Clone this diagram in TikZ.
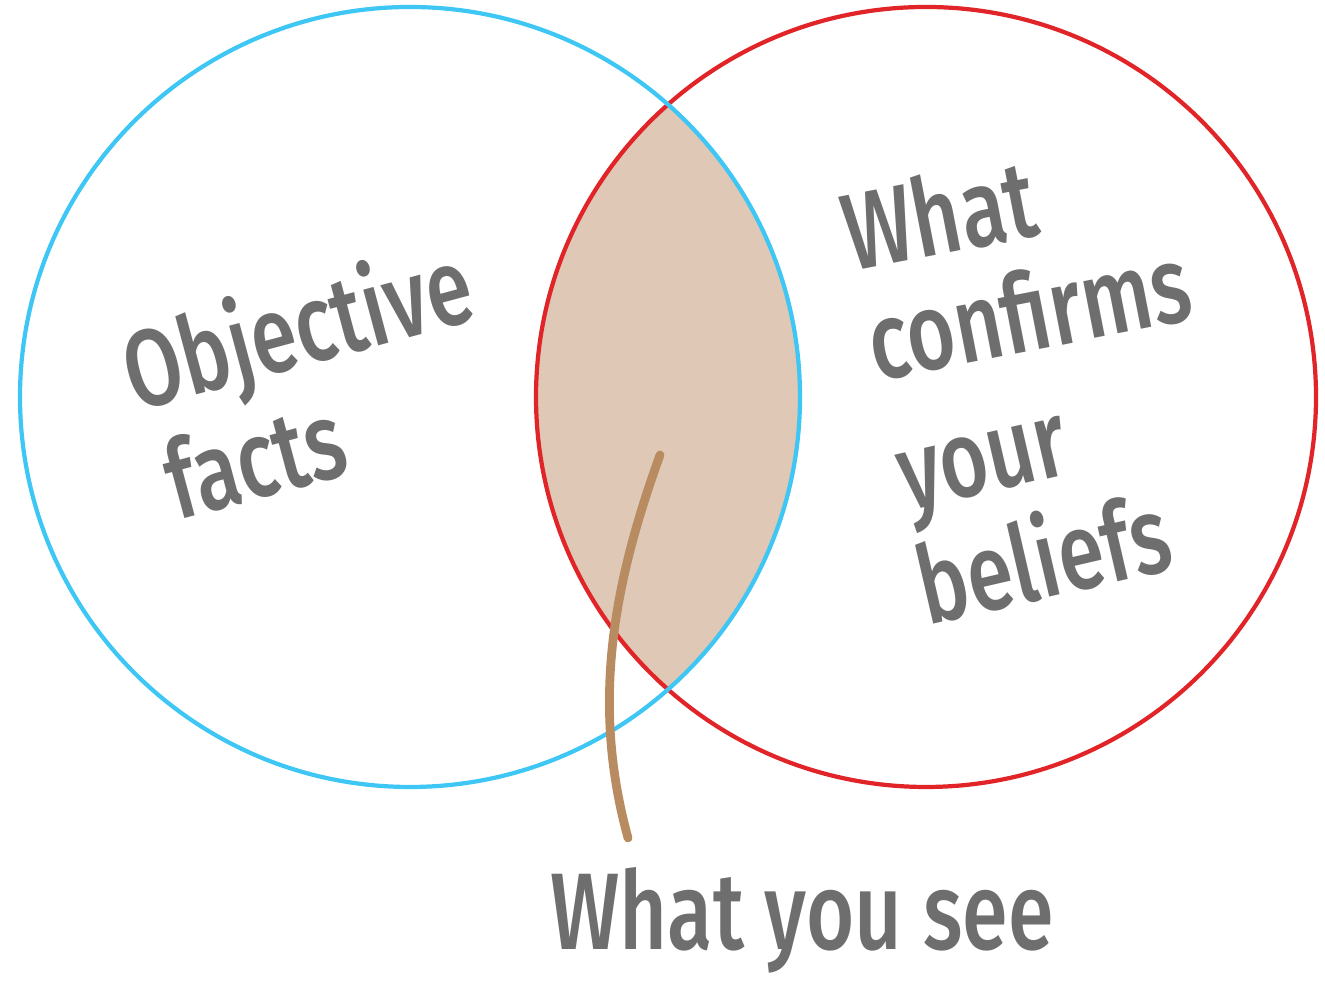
\documentclass[tikz,border=0pt]{standalone}
\usepackage{fontspec}
\setmainfont{Fira Sans}[UprightFont=* Medium]
\definecolor{factblue}{HTML}{3EC6F4}
\definecolor{beliefred}{HTML}{E02427}
\definecolor{seefill}{HTML}{DFC8B5}
\definecolor{seeline}{HTML}{B88C60}
\definecolor{inkgray}{HTML}{6E6E6E}
\begin{document}
\begin{tikzpicture}[
    hand/.style={text=inkgray, font=\fontsize{31}{36}\selectfont, anchor=base, inner sep=0pt},
    ring/.style={line width=1.2pt}]
    \useasboundingbox (0,0) rectangle (13.25,9.97);
    \coordinate (facts) at (4.10,6.00);
    \coordinate (beliefs) at (9.26,6.00);
    % overlap of the two sets
    \begin{scope}
      \clip (facts) circle (3.90);
      \fill[seefill] (beliefs) circle (3.90);
    \end{scope}
    \draw[ring, beliefred] (beliefs) circle (3.90);
    \draw[ring, factblue] (facts) circle (3.90);
    % labels
    \node[hand, rotate=15, xscale=0.76] (objective) at (3.07,6.32) {Objective};
    \node[hand, rotate=15, xscale=0.76] (factsword) at (2.65,5.00) {facts};
    \node[hand, rotate=11, xscale=0.76] (what) at (9.47,7.44) {What};
    \node[hand, rotate=11, xscale=0.76] (confirms) at (10.36,6.47) {confirms};
    \node[hand, rotate=13, xscale=0.76] (your) at (9.90,5.05) {your};
    \node[hand, rotate=13, xscale=0.76] (beliefword) at (10.52,4.00) {beliefs};
    \node[hand, xscale=0.76] (see) at (8.02,0.47) {What you see};
    % pointer
    \coordinate (tip) at (6.60,5.42);
    \coordinate (foot) at (6.28,1.59);
    \draw[seeline, line width=2.5pt, line cap=round] (tip) .. controls (6.15,4.17) and (5.90,2.97) .. (foot);
\end{tikzpicture}
\end{document}
